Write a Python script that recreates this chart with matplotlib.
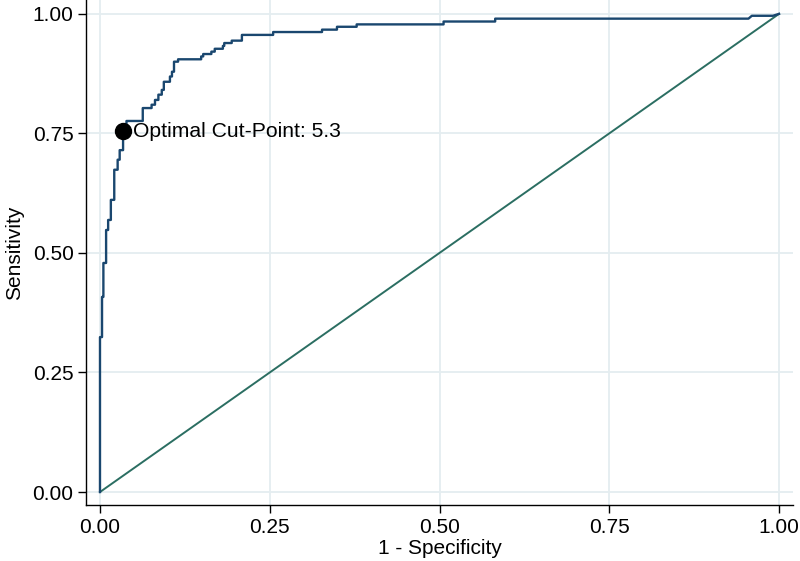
import matplotlib
matplotlib.use("Agg")
import matplotlib.pyplot as plt

# ROC curve points (1 - specificity, sensitivity)
fpr = [0.0, 0.0, 0.003, 0.003, 0.005, 0.005, 0.009, 0.009, 0.012, 0.012,
       0.016, 0.016, 0.021, 0.021, 0.026, 0.026, 0.029, 0.029, 0.034, 0.034,
       0.039, 0.039, 0.063, 0.063, 0.076, 0.076, 0.081, 0.081, 0.086, 0.086,
       0.091, 0.091, 0.094, 0.094, 0.103, 0.103, 0.106, 0.106, 0.109, 0.109,
       0.115, 0.115, 0.149, 0.149, 0.152, 0.152, 0.164, 0.164, 0.169, 0.169,
       0.181, 0.181, 0.183, 0.183, 0.194, 0.194, 0.209, 0.209, 0.255, 0.255,
       0.327, 0.327, 0.349, 0.349, 0.378, 0.378, 0.506, 0.506, 0.582, 0.582,
       0.955, 0.96, 0.991, 1.0]
tpr = [0.0, 0.324, 0.324, 0.408, 0.408, 0.479, 0.479, 0.548, 0.548, 0.569,
       0.569, 0.611, 0.611, 0.674, 0.674, 0.695, 0.695, 0.715, 0.715, 0.751,
       0.751, 0.776, 0.776, 0.803, 0.803, 0.810, 0.810, 0.820, 0.820, 0.831,
       0.831, 0.841, 0.841, 0.858, 0.858, 0.869, 0.869, 0.879, 0.879, 0.900,
       0.900, 0.905, 0.905, 0.911, 0.911, 0.916, 0.916, 0.921, 0.921, 0.927,
       0.927, 0.933, 0.933, 0.939, 0.939, 0.944, 0.944, 0.956, 0.956, 0.962,
       0.962, 0.967, 0.967, 0.973, 0.973, 0.978, 0.978, 0.984, 0.984, 0.990,
       0.990, 0.996, 0.996, 1.0]

cut_x = 0.034
cut_y = 0.755
cut_label = "Optimal Cut-Point: 5.3"

ticks = [0.0, 0.25, 0.5, 0.75, 1.0]
tick_labels = ["0.00", "0.25", "0.50", "0.75", "1.00"]

plt.rcParams['font.family'] = ['Liberation Sans', 'DejaVu Sans']

fig = plt.figure(figsize=(8, 5.61), dpi=100)
ax = fig.add_axes([0.1075, 0.0998, 0.88375, 0.9002])

ax.set_xlim(-0.0206, 1.0206)
ax.set_ylim(-0.0272, 1.029)

# light grid at every tick, Stata style
for t in ticks:
    ax.axvline(t, color="#e4edf0", linewidth=1.3, zorder=0)
    ax.axhline(t, color="#e4edf0", linewidth=1.3, zorder=0)

ax.plot([0, 1], [0, 1], color="#2b6e62", linewidth=1.4, zorder=2)
ax.plot(fpr, tpr, color="#1a476f", linewidth=1.7, zorder=3)

ax.plot(cut_x, cut_y, "o", color="black", markersize=11.5, zorder=4)
ax.annotate(cut_label, (cut_x, cut_y), xytext=(7, 0),
            textcoords="offset points", va="center", ha="left", fontsize=15.2)

ax.set_xticks(ticks)
ax.set_xticklabels(tick_labels)
ax.set_yticks(ticks)
ax.set_yticklabels(tick_labels)
ax.tick_params(direction="out", length=6, width=1, labelsize=15, pad=3)

ax.spines["top"].set_visible(False)
ax.spines["right"].set_visible(False)
ax.spines["left"].set_linewidth(1)
ax.spines["bottom"].set_linewidth(1)

ax.set_xlabel("1 - Specificity", fontsize=15, labelpad=2)
ax.set_ylabel("Sensitivity", fontsize=15, labelpad=6)

fig.savefig("out.png", dpi=100)
